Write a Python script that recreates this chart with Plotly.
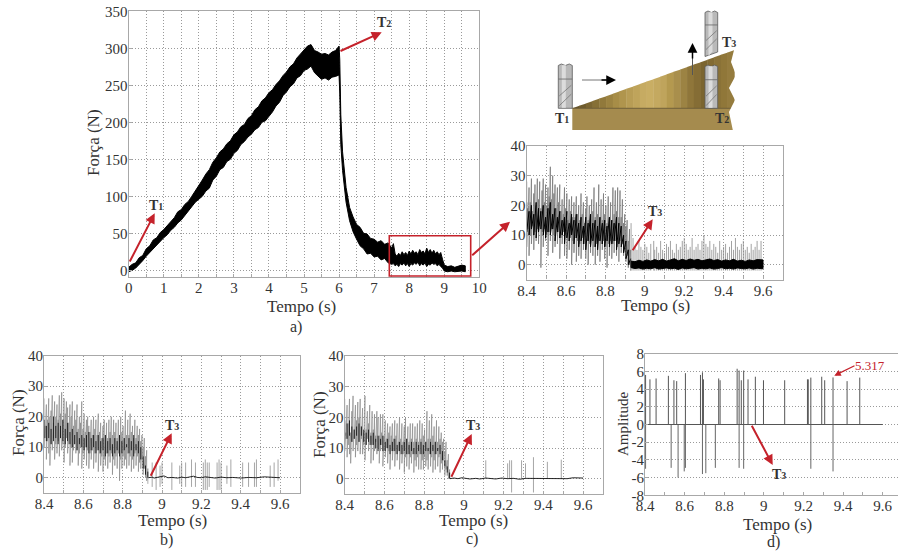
import plotly.graph_objects as go

W, H = 898, 551
FONT = "Liberation Serif"
INK = "#333333"
RED = "#c5222b"
GRID = "#9a9a9a"
FRAME = "#a8a8a8"

# ---------- panel a: envelope of the force trace ----------
a_t = [0,.1,.2,.3,.4,.5,.6,.7,.8,.9,1,1.1,1.2,1.3,1.4,1.5,1.6,1.7,1.8,1.9,2,2.1,2.2,2.3,2.4,2.5,2.6,2.7,2.8,2.9,
       3,3.1,3.2,3.3,3.4,3.5,3.6,3.7,3.8,3.9,4,4.1,4.2,4.3,4.4,4.5,4.6,4.7,4.8,4.9,5,5.1,5.2,5.3,5.4,5.5,5.6,5.7,5.8,5.9,
       6,6.02,6.05,6.1,6.2,6.3,6.4,6.5,6.6,6.7,6.8,6.9,7,7.1,7.2,7.3,7.4,
       7.5,7.55,7.6,7.65,7.7,7.75,7.8,7.85,7.9,7.95,8,8.05,8.1,8.15,8.2,8.25,8.3,8.35,8.4,8.45,8.5,8.55,8.6,8.65,8.7,8.75,8.8,8.85,8.9,8.95,9,
       9.1,9.2,9.3,9.4,9.5,9.6]
a_hi = [4,8,10,17,20,29,33,41,44,51,55,60,66,71,79,82,89,93,100,107,115,122,130,136,146,152,160,164,171,175,
        183,187,194,197,205,209,217,221,229,233,240,244,251,256,263,268,275,279,287,292,298,303,305,297,295,292,293,291,295,297,
        303,285,210,160,112,85,72,62,58,50,49,43,42,38,40,35,37,
        30,36,22,19,23,20,25,21,24,20,26,22,27,23,25,21,28,24,26,22,30,24,28,23,27,22,25,21,24,15,7,
        5,6,4,5,7,6]
a_lo = [-2,0,3,8,13,19,25,29,35,39,44,48,54,58,64,68,74,80,86,92,96,100,107,111,122,127,136,139,147,150,
        158,162,170,174,180,184,190,193,200,202,208,214,222,227,236,241,248,252,260,263,270,272,276,267,263,258,260,257,261,262,
        264,240,170,135,92,67,52,42,33,29,22,23,18,19,14,16,10,
        8,9,6,8,5,9,7,10,6,9,5,9,7,10,8,11,6,9,7,10,5,8,7,10,8,9,6,8,5,3,-1,
        -2,-1,-2,-2,-1,-2]
a_xticks = [0,.5,1,1.5,2,2.5,3,3.5,4,4.5,5,5.5,6,6.5,7,7.5,8,8.5,9,9.5,10]
a_xlabels = ["0","","1","","2","","3","","4","","5","","6","","7","","8","","9","","10"]
a_yticks = [0,50,100,150,200,250,300,350]

# ---------- zoomed panels: shared time bases ----------
pre_t = [8.40,8.406,8.412,8.418,8.424,8.43,8.436,8.442,8.448,8.454,8.46,8.466,8.472,8.478,8.484,8.49,8.496,8.502,8.508,8.514,
         8.52,8.526,8.532,8.538,8.544,8.55,8.556,8.562,8.568,8.574,8.58,8.586,8.592,8.598,8.604,8.61,8.616,8.622,8.628,8.634,
         8.64,8.646,8.652,8.658,8.664,8.67,8.676,8.682,8.688,8.694,8.70,8.706,8.712,8.718,8.724,8.73,8.736,8.742,8.748,8.754,
         8.76,8.766,8.772,8.778,8.784,8.79,8.796,8.802,8.808,8.814,8.82,8.826,8.832,8.838,8.844,8.85,8.856,8.862,8.868,8.874,
         8.88,8.886,8.892,8.898,8.904,8.91,8.916,8.922,8.928]
core_t = [8.40,8.412,8.424,8.436,8.448,8.46,8.472,8.484,8.496,8.508,8.52,8.532,8.544,8.556,8.568,8.58,8.592,8.604,8.616,8.628,
          8.64,8.652,8.664,8.676,8.688,8.70,8.712,8.724,8.736,8.748,8.76,8.772,8.784,8.796,8.808,8.82,8.832,8.844,8.856,8.868,
          8.88,8.892,8.904,8.916,8.928]
band_t = [8.93,8.95,8.97,8.99,9.01,9.03,9.05,9.07,9.09,9.11,9.13,9.15,9.17,9.19,9.21,9.23,9.25,9.27,9.29,9.31,9.33,9.35,9.37,9.39,9.41,9.43,9.45,9.47,9.49,9.51,9.53,9.55,9.57,9.6]

# ---------- inset of panel a ----------
i_hi = [28,19,26,21,29,18,24,27,20,29,22,28,19,25,29,21,27,20,26,23,33,22,30,24,27,19,26,21,27,18,
        22,17,26,19,24,15,22,18,23,16,21,16,23,17,20,15,24,17,21,14,19,23,15,20,16,22,18,26,16,21,
        17,27,16,22,15,24,17,20,14,23,16,21,15,26,17,25,18,26,16,25,16,22,14,17,13,15,8,12,5]
i_lo = [6,12,3,10,7,13,5,11,8,12,7,13,-1,11,6,12,8,10,3,11,8,12,4,10,6,13,7,11,2,9,
        7,11,3,10,2,8,5,9,0,8,4,9,1,8,3,7,2,9,5,7,2,8,0,7,4,9,3,6,0,7,
        3,8,1,7,5,8,2,6,-1,7,3,8,2,7,4,8,3,6,1,8,4,7,3,6,1,3,-1,0,-2]
i_core_hi = [21,18,20,17,21,19,18,20,16,19,21,17,19,16,18,15,16,18,14,17,15,17,14,16,13,16,14,17,14,15,13,16,14,15,13,16,15,14,16,14,13,10,8,5,2]
i_core_lo = [11,10,12,10,9,11,12,10,9,11,10,12,8,11,9,10,7,9,8,10,7,9,6,8,7,5,8,6,8,6,5,8,7,6,8,6,7,8,5,7,6,4,2,0,-1]
i_band_hi = [1.2,1,1.5,1.1,1.6,1.2,1.7,1.3,1.8,1.2,1.6,2,1.3,1.8,1.4,1.9,1.5,1.8,1.3,1.7,1.9,1.4,1.7,1.2,1.6,1.3,1.8,1.2,1.5,1.1,1.6,1.3,1.7,1.6]
i_band_lo = [-1,-1.3,-1.1,-1.5,-1.2,-1.4,-1,-1.5,-1.3,-1.1,-1.4,-1.2,-1.6,-1.1,-1.4,-1.3,-1,-1.5,-1.2,-1.4,-1.1,-1.5,-1.3,-1,-1.4,-1.2,-1.5,-1.1,-1.3,-1.4,-1.1,-1.5,-1.2,-1.4]
i_spike_t = [8.93,8.94,8.95,8.96,8.97,8.98,8.99,9.0,9.01,9.02,9.03,9.045,9.05,9.06,9.07,9.08,9.09,9.1,9.11,9.12,9.13,9.14,9.15,9.16,9.17,
             9.18,9.19,9.2,9.21,9.22,9.23,9.24,9.25,9.26,9.27,9.28,9.29,9.3,9.31,9.32,9.33,9.34,9.35,9.36,9.37,9.38,9.39,9.4,9.41,9.42,
             9.43,9.44,9.45,9.46,9.47,9.48,9.49,9.5,9.51,9.52,9.53,9.54,9.55,9.56,9.57,9.58,9.59]
i_spike_hi = [14,9,6,5,8,6,5,7,6,4,7,8,5,6,4,8,5,4,7,6,8,5,4,7,5,
              6,8,9,7,5,6,9,5,6,7,5,8,10,7,6,8,5,7,6,4,8,5,6,7,4,
              6,8,5,9,6,5,7,8,5,6,4,7,5,6,8,5,8]

# ---------- panel b ----------
b_hi = [26,17,24,19,26,20,22,27,18,25,20,24,19,27,21,28,19,26,21,25,23,18,24,20,25,17,22,19,24,16,
        20,18,25,16,21,15,19,20,17,15,19,14,20,16,19,14,21,15,18,13,17,19,14,18,13,19,15,20,14,19,
        15,18,13,19,14,20,15,17,13,22,14,19,14,21,15,17,13,19,13,17,14,16,12,14,10,13,7,9,3]
b_lo = [10,13,6,12,8,4,11,9,13,6,11,8,12,7,13,9,11,5,10,13,8,11,4,10,5,9,11,8,9,4,
        8,10,3,8,6,10,4,9,3,8,6,9,3,8,5,9,2,8,4,7,2,6,4,8,3,7,5,8,1,6,
        4,7,3,8,-1,6,3,7,4,6,3,8,4,7,2,6,3,8,4,7,2,5,3,6,1,3,0,-1,-2]
b_core_hi = [19,17,18,16,20,17,18,17,19,16,18,15,16,14,15,13,14,13,14,15,13,14,12,14,12,13,14,12,13,11,13,12,14,12,13,11,13,12,14,11,12,10,7,4,2]
b_core_lo = [13,12,13,11,12,13,11,13,12,11,12,11,10,11,9,11,10,9,10,8,9,10,8,9,8,9,7,8,9,7,8,9,7,8,9,10,8,9,7,9,8,6,3,1,0]
b_line_t = [8.93,8.95,8.96,8.98,9.0,9.01,9.03,9.05,9.08,9.1,9.12,9.15,9.16,9.18,9.2,9.22,9.24,9.27,9.3,9.33,9.36,9.4,9.44,9.48,9.52,9.56,9.6]
b_line_y = [0,0.2,-0.1,0.2,0.4,0.6,0,0.1,-0.1,0.2,0,0.4,0.5,0.1,0,0.3,0.1,-0.1,0.2,0,0.1,-0.1,0.1,0,0.3,0.1,0]
b_spike_t = [8.95,8.97,8.99,9.0,9.05,9.09,9.1,9.12,9.15,9.17,9.21,9.22,9.23,9.24,9.28,9.29,9.3,9.33,9.35,9.41,9.44,9.47,9.48,9.55,9.57,9.59]
b_spike_hi = [5,5,4,5,5,4,5,5,6,5,5,6,5,5,5,6,5,4,6,5,5,5,6,4,5,6]
b_spike_lo = [-3,-4,-3,-2,-4,-2,-3,-3,-3,-3,-4,-4,-4,-3,-4,-4,-4,-2,-3,-3,-3,-3,-3,-3,-3,-1]

# ---------- panel c ----------
c_hi = [26,15,24,18,26,15,22,27,16,24,19,25,20,26,17,23,15,27,16,22,18,24,15,22,16,21,14,22,20,14,
        21,15,21,14,19,13,18,15,17,14,18,13,19,14,18,12,20,13,18,12,17,20,13,17,12,18,13,18,12,17,
        13,18,12,19,13,18,14,16,12,22,13,19,13,21,14,17,12,19,12,17,13,15,12,13,9,12,6,8,3]
c_lo = [9,13,7,11,8,5,12,9,13,7,11,9,12,8,13,8,11,6,11,13,9,11,5,11,6,9,12,8,10,5,
        9,11,4,9,7,10,5,9,3,9,6,9,4,8,6,9,3,8,5,8,2,7,4,8,3,7,5,8,2,6,
        4,7,3,8,3,6,3,7,4,6,3,8,4,7,2,6,3,8,4,7,2,5,3,6,1,3,1,0,0]
c_core_hi = [19,18,19,17,16,17,18,17,16,15,16,14,15,13,14,13,14,12,13,11,12,13,11,12,11,12,13,11,12,10,12,11,12,11,12,10,12,11,12,10,11,9,6,4,2]
c_core_lo = [14,13,14,12,13,14,12,14,12,11,12,11,11,10,9,11,9,9,10,8,9,9,8,9,8,9,8,8,9,8,8,9,8,8,9,9,8,9,8,9,8,6,4,2,0]
c_line_t = [8.93,8.95,8.97,8.99,9.01,9.03,9.06,9.08,9.11,9.13,9.16,9.19,9.22,9.25,9.28,9.31,9.34,9.37,9.4,9.43,9.46,9.49,9.52,9.55,9.58,9.6]
c_line_y = [0,0.2,0,0.3,0.1,-0.1,0.1,-0.1,0.2,0.1,-0.1,0.2,0,0.1,-0.2,0.1,0.1,-0.1,0.1,0.1,-0.1,0.1,0,0.3,0.1,0.2]
c_spike_t = [9.11,9.22,9.23,9.24,9.29,9.31,9.35,9.42,9.49]
c_spike_hi = [6,5,6,6,6,5,7,5.5,6.2]
c_spike_lo = [0,0,0,-4.5,0,0,-4.5,0,0]

# ---------- panel d ----------
d_pos_t = [8.403,8.425,8.456,8.518,8.546,8.56,8.604,8.68,8.69,8.695,8.772,8.779,8.865,8.875,8.886,8.898,8.92,8.957,8.998,9.105,9.22,9.224,9.237,9.292,9.307,9.349,9.42,9.484]
d_pos_y = [5.6,5.1,5.2,5.5,5.0,4.9,5.8,5.6,5.9,5.1,5.2,5.0,6.3,6.1,5.0,6.1,5.1,5.4,5.0,5.0,5.1,5.1,5.3,5.4,5.0,5.317,4.9,5.3]
d_neg_t = [8.403,8.532,8.567,8.598,8.604,8.69,8.707,8.755,8.875,8.898,9.237,9.349]
d_neg_y = [-5.0,-4.9,-6.0,-5.3,-4.9,-5.6,-5.5,-4.9,-4.9,-5.0,-5.0,-5.3]
d_base_t = [8.4,9.6]
d_base_y = [0,0]

zoom_xticks = [8.4,8.5,8.6,8.7,8.8,8.9,9,9.1,9.2,9.3,9.4,9.5,9.6]
zoom_xlabels = ["8.4","","8.6","","8.8","","9","","9.2","","9.4","","9.6"]
zoom_yticks = [-5,0,10,20,30,40]
zoom_ylabels = ["","0","10","20","30","40"]
d_yticks = [-8,-6,-4,-2,0,2,4,6,8]


def px(x):
    return x / W


def py(y):
    return 1 - y / H


def zigzag(t, hi, lo):
    xs, ys = [], []
    for a, b, c in zip(t, hi, lo):
        xs += [a, a]
        ys += [b, c]
    return xs, ys


def sticks(t, hi, lo):
    xs, ys = [], []
    for a, b, c in zip(t, hi, lo):
        xs += [a, a, None]
        ys += [b, c, None]
    return xs, ys


fig = go.Figure()


def axis_pair(n, box, xr, yr, xt, xl, yt, yl, xgrid=True):
    left, top, right, bottom = box
    sx = "" if n == 1 else str(n)
    fig.update_layout({
        "xaxis" + sx: dict(domain=[px(left), px(right)], range=xr, tickmode="array", tickvals=xt, ticktext=xl,
                           anchor="y" + sx, showgrid=xgrid, gridcolor=GRID, griddash="1px,2px", gridwidth=1,
                           zeroline=False, showline=True, linecolor=FRAME, linewidth=1.2, mirror=True, automargin=False,
                           ticks="inside", ticklen=3, tickcolor=FRAME, tickangle=0, ticklabelstandoff=-3,
                           tickfont=dict(family=FONT, size=15, color=INK)),
        "yaxis" + sx: dict(domain=[py(bottom), py(top)], range=yr, tickmode="array", tickvals=yt, ticktext=yl,
                           anchor="x" + sx, showgrid=True, gridcolor=GRID, griddash="1px,2px", gridwidth=1,
                           zeroline=False, showline=True, linecolor=FRAME, linewidth=1.2, mirror=True, automargin=False,
                           ticks="inside", ticklen=3, tickcolor=FRAME, ticklabelstandoff=-3,
                           tickfont=dict(family=FONT, size=15, color=INK)),
    })


axis_pair(1, (128.7, 11.3, 479.3, 277.3), [0, 10], [-9.5, 350], a_xticks, a_xlabels, a_yticks, [str(v) for v in a_yticks])
axis_pair(2, (526.7, 146, 782.7, 279.5), [8.4, 9.7], [-5, 40], zoom_xticks, zoom_xlabels, zoom_yticks, zoom_ylabels)
axis_pair(3, (44, 355.7, 299.7, 493), [8.4, 9.7], [-5, 40], zoom_xticks, zoom_xlabels, zoom_yticks, zoom_ylabels)
axis_pair(4, (344.7, 356, 603, 494), [8.4, 9.7], [-5, 40], zoom_xticks, zoom_xlabels, zoom_yticks, zoom_ylabels)
axis_pair(5, (645, 353.7, 898, 495.3), [8.4, 9.677], [-8, 8], zoom_xticks, zoom_xlabels, d_yticks, [str(v) for v in d_yticks], xgrid=False)


def add(x, y, n, color="#000000", width=1.0, **kw):
    sx = "" if n == 1 else str(n)
    fig.add_trace(go.Scatter(x=x, y=y, xaxis="x" + sx, yaxis="y" + sx, mode="lines", showlegend=False, hoverinfo="skip",
                             line=dict(color=color, width=width), **kw))


# panel a
add(a_t + a_t[::-1], a_hi + a_lo[::-1], 1, width=1, fill="toself", fillcolor="#000000")

# inset
add(*zigzag(pre_t, i_hi, i_lo), 2, color="#7a7a7a", width=0.8)
add(*zigzag(core_t, i_core_hi, i_core_lo), 2, color="#000000", width=1.0)
add(*sticks(i_spike_t, i_spike_hi, [-2] * len(i_spike_t)), 2, color="#8a8a8a", width=0.8)
add(band_t + band_t[::-1], i_band_hi + i_band_lo[::-1], 2, width=1, fill="toself", fillcolor="#000000")

# panel b
add(*zigzag(pre_t, b_hi, b_lo), 3, color="#8a8a8a", width=0.7)
add(*sticks(core_t, b_core_hi, b_core_lo), 3, color="#111111", width=0.9)
add(*sticks(b_spike_t, b_spike_hi, b_spike_lo), 3, color="#8f8f8f", width=0.8)
add(b_line_t, b_line_y, 3, color="#111111", width=0.9)

# panel c
add(*zigzag(pre_t, c_hi, c_lo), 4, color="#8a8a8a", width=0.7)
add(*sticks(core_t, c_core_hi, c_core_lo), 4, color="#111111", width=0.9)
add(*sticks(c_spike_t, c_spike_hi, c_spike_lo), 4, color="#8f8f8f", width=0.8)
add(c_line_t, c_line_y, 4, color="#111111", width=0.9)

# panel d
add(*sticks(d_pos_t, d_pos_y, [0] * len(d_pos_t)), 5, color="#555555", width=1)
add(*sticks(d_neg_t, d_neg_y, [0] * len(d_neg_t)), 5, color="#666666", width=1)
add(d_base_t, d_base_y, 5, color="#555555", width=1.2)

# ---------- page-level drawing in pixel positions ----------
shapes = []


def path(points, fill=None, line=None, lw=1, layer="above"):
    d = "M " + " L ".join(f"{px(x):.5f},{py(y):.5f}" for x, y in points) + " Z"
    shapes.append(dict(type="path", path=d, xref="paper", yref="paper", layer=layer,
                       fillcolor=fill or "rgba(0,0,0,0)", line=dict(color=line or "rgba(0,0,0,0)", width=lw)))


def seg(x0, y0, x1, y1, color, lw=1):
    shapes.append(dict(type="line", xref="paper", yref="paper", x0=px(x0), y0=py(y0), x1=px(x1), y1=py(y1),
                       line=dict(color=color, width=lw)))


# work piece
path([(572.3, 108.3), (733, 108.3), (733, 130), (572.3, 130)], fill="#a58b4e")
wedge_cols = ["#65532a", "#6f5c2d", "#7b6632", "#867036", "#91793b", "#9c8341", "#a78d47", "#b0954d", "#b89d55", "#bfa45b", "#c6ab62", "#c9ae64", "#c4a960", "#bfa45c", "#b4994f", "#a98f4c", "#9c8343", "#8f763a", "#856d35", "#7b6530", "#826b34", "#8a7238", "#907739", "#957c3e"]
n = len(wedge_cols)
tipx, tipy, lx, ly = 734.3, 50.0, 572.3, 108.3
for i, c in enumerate(wedge_cols):
    x0 = lx + (tipx - lx) * i / n
    x1 = lx + (tipx - lx) * (i + 1) / n + 0.4
    y0 = ly + (tipy - ly) * i / n
    y1 = ly + (tipy - ly) * (i + 1) / n
    path([(x0, ly), (x0, y0), (x1, y1), (x1, ly)], fill=c)
seg(572.3, 108.3, 733, 108.3, "#6d5c33", 1)
# wavy right edge
path([(734.3, 49), (731, 62), (736, 75), (729, 88), (735, 100), (729, 112), (733, 131), (760, 131), (760, 49)], fill="#ffffff")


def tool(x0, x1, top, bottom_pts):
    mid = (x0 + x1) / 2
    pts = [(x0, top + 1.5), (x0 + 3, top), (mid, top + 1.5), (x1 - 3, top), (x1, top + 1.5)] + bottom_pts
    path(pts, fill="#b9b9b9", line="#5a5a5a", lw=0.8)
    path([(x0 + 3.5, top + 1.2), (x0 + 7.5, top + 1.2), (x0 + 7.5, bottom_pts[0][1] - 0.5), (x0 + 3.5, bottom_pts[-1][1] - 0.5)], fill="#dcdcdc")
    h = bottom_pts[0][1] - top
    seg(x0, top + h * .34, x1, top + h * .34, "#666666", .8)
    seg(x0 + 1, top + h * .72, x1 - 1, top + h * .48, "#777777", .8)
    seg(x0 + 1, top + h * .94, x1 - 1, top + h * .68, "#777777", .8)


tool(558.3, 572.3, 64, [(572.3, 108.3), (558.3, 108.3)])
tool(705, 717.7, 65, [(717.7, 108.3), (705, 108.3)])
tool(705, 717.7, 11, [(717.7, 52), (705, 56.5)])

# zoom box
shapes.append(dict(type="rect", xref="paper", yref="paper", x0=px(389.3), x1=px(470.7), y0=py(276), y1=py(235.7),
                   line=dict(color=RED, width=1.6), fillcolor="rgba(0,0,0,0)"))
seg(582, 80, 606, 80, "#777777", 1)
seg(692.5, 75, 692.5, 50, "#555555", 1)

ann = []


def text(x, y, s, size=15, color=INK, angle=0):
    ann.append(dict(x=px(x), y=py(y), xref="paper", yref="paper", text=s, showarrow=False, xanchor="center", yanchor="middle",
                    textangle=angle, font=dict(family=FONT, size=size, color=color)))


def arrow(x0, y0, x1, y1, color=RED, w=2.0, head=2, scale=1.0):
    ann.append(dict(x=px(x1), y=py(y1), xref="paper", yref="paper", axref="pixel", ayref="pixel",
                    ax=x0 - x1, ay=y0 - y1, text="", showarrow=True, arrowhead=head, arrowsize=scale,
                    arrowwidth=w, arrowcolor=color))


def tlabel(digit):
    return f'<b>T<span style="font-size:10px">{digit}</span></b>'


arrow(129, 263, 154.7, 213.3)
text(156, 205, tlabel(1), 14)
arrow(339, 51.7, 381.7, 32.3)
text(384, 23, tlabel(2), 14)
arrow(470.7, 256.7, 510, 221.7)
arrow(631.7, 251.7, 652.7, 219.3)
text(655, 211, tlabel(3), 14)
arrow(150, 477.3, 171.7, 433.3)
text(172, 425, tlabel(3), 14)
arrow(450.7, 478.3, 471.7, 434)
text(473.5, 425.5, tlabel(3), 14)
arrow(751, 424.3, 772.7, 465)
text(779, 474, tlabel(3), 14)
arrow(856, 365, 834.3, 375.7, w=1.3)
text(870, 365, "5.317", 13, color=RED)

arrow(600, 80, 616, 80, color="#000000", w=1.5, scale=1.3)
arrow(692.5, 60, 692.5, 43, color="#000000", w=1.5, scale=1.3)
text(561.5, 118, tlabel(1), 14)
text(721.5, 118, tlabel(2), 14)
text(729, 43, tlabel(3), 14)

# axis titles
text(301.7, 306, "Tempo (s)", 17)
text(655.7, 305, "Tempo (s)", 17)
text(172.7, 520, "Tempo (s)", 17)
text(473, 520, "Tempo (s)", 17)
text(777.7, 524, "Tempo (s)", 17)
text(93, 143, "Força (N)", 17, angle=-90)
text(18, 423, "Força (N)", 17, angle=-90)
text(319, 425, "Força (N)", 17, angle=-90)
text(623, 424, "Amplitude", 15, angle=-90)

# panel captions
text(296, 327, "a)", 16)
text(166, 540, "b)", 16)
text(472, 539, "c)", 16)
text(773, 542, "d)", 16)

fig.update_layout(width=W, height=H, margin=dict(l=0, r=0, t=0, b=0, pad=0, autoexpand=False), autosize=False,
                  paper_bgcolor="#ffffff", plot_bgcolor="#ffffff", showlegend=False,
                  shapes=shapes, annotations=ann, font=dict(family=FONT, color=INK))

fig.write_html("out.html", config={"displayModeBar": False},
               post_script="document.body.style.margin='0';document.documentElement.style.overflow='hidden';")
